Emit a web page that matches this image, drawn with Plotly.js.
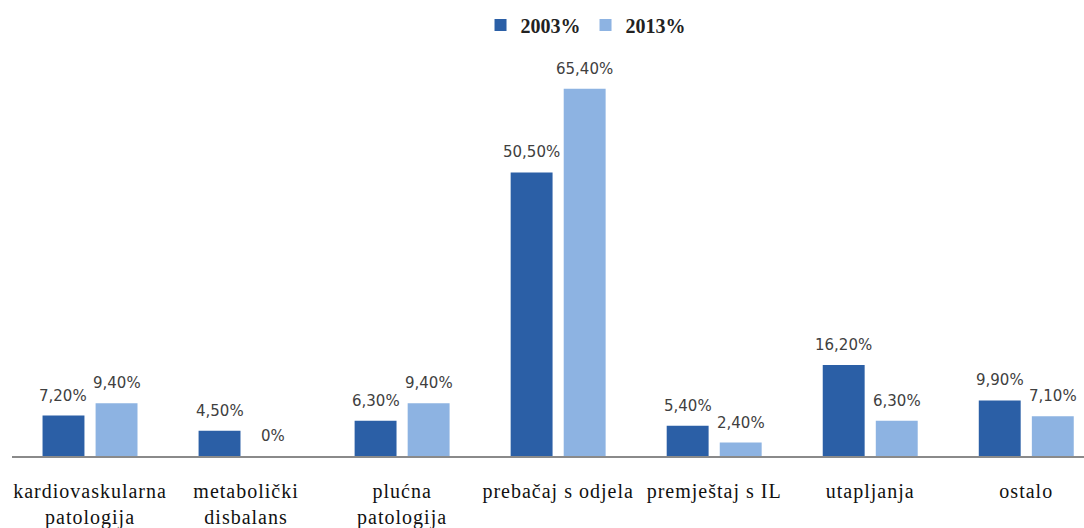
<!DOCTYPE html>
<html>
<head>
<meta charset="utf-8">
<script src="https://cdn.plot.ly/plotly-3.0.1.min.js"></script>
<style>html,body{margin:0;padding:0;background:#fff;}#chart{width:1084px;height:528px;}
.xtick text{letter-spacing:1px;}</style>
</head>
<body>
<div id="chart"></div>
<script>
var categories = ["kardiovaskularna<br>patologija", "metabolički<br>disbalans", "plućna<br>patologija", "prebačaj s odjela", "premještaj s IL", "utapljanja", "ostalo"];
var values2003 = [7.2, 4.5, 6.3, 50.5, 5.4, 16.2, 9.9];
var values2013 = [9.4, 0, 9.4, 65.4, 2.4, 6.3, 7.1];
var seriesNames = ["2003%", "2013%"];

function fmt(v) {
  if (v === 0) return "0%";
  return v.toFixed(2).replace(".", ",") + "%";
}

var labelFont = {family: "DejaVu Sans, Verdana, sans-serif", size: 15, color: "#404040"};

var t1 = {
  type: "bar", name: seriesNames[0], x: categories, y: values2003,
  marker: {color: "#2b5fa6"}, hoverinfo: "none"
};
var t2 = {
  type: "bar", name: seriesNames[1], x: categories, y: values2013,
  marker: {color: "#8db3e2"}, hoverinfo: "none"
};

var bargap = 0.32, bargroupgap = 0.21;
var pxPerCat = 1072 / 6.87;
var slot = (1 - bargap) * pxPerCat / 2;

var annotations = [];
[values2003, values2013].forEach(function (vals, si) {
  vals.forEach(function (v, i) {
    annotations.push({
      x: categories[i], y: v, xref: "x", yref: "y",
      text: fmt(v), showarrow: false, yanchor: "bottom", xanchor: "center",
      xshift: (si === 0 ? -1 : 1) * slot / 2, yshift: 9,
      font: labelFont
    });
  });
});

var layout = {
  width: 1084, height: 528,
  margin: {l: 12, r: 0, t: 63, b: 72},
  paper_bgcolor: "#ffffff", plot_bgcolor: "#ffffff",
  barmode: "group", bargap: bargap, bargroupgap: bargroupgap,
  showlegend: true,
  legend: {orientation: "h", x: 0.535, xanchor: "center", y: 1.097, yanchor: "middle",
           font: {family: "Liberation Serif, Times New Roman, serif", size: 20, color: "#222", weight: "bold"},
           itemwidth: 30, traceorder: "normal"},
  annotations: annotations,
  xaxis: {
    type: "category", range: [-0.5, 6.37], showline: true, linecolor: "#8a8a8a", linewidth: 1.5,
    showgrid: false, zeroline: false, ticks: "", ticklen: 0, ticklabelstandoff: 16,
    tickfont: {family: "Liberation Serif, Times New Roman, serif", size: 20, color: "#111"}
  },
  yaxis: {range: [0, 70], visible: false, showgrid: false, zeroline: false}
};

Plotly.newPlot("chart", [t1, t2], layout, {displayModeBar: false, staticPlot: true});
</script>
</body>
</html>
